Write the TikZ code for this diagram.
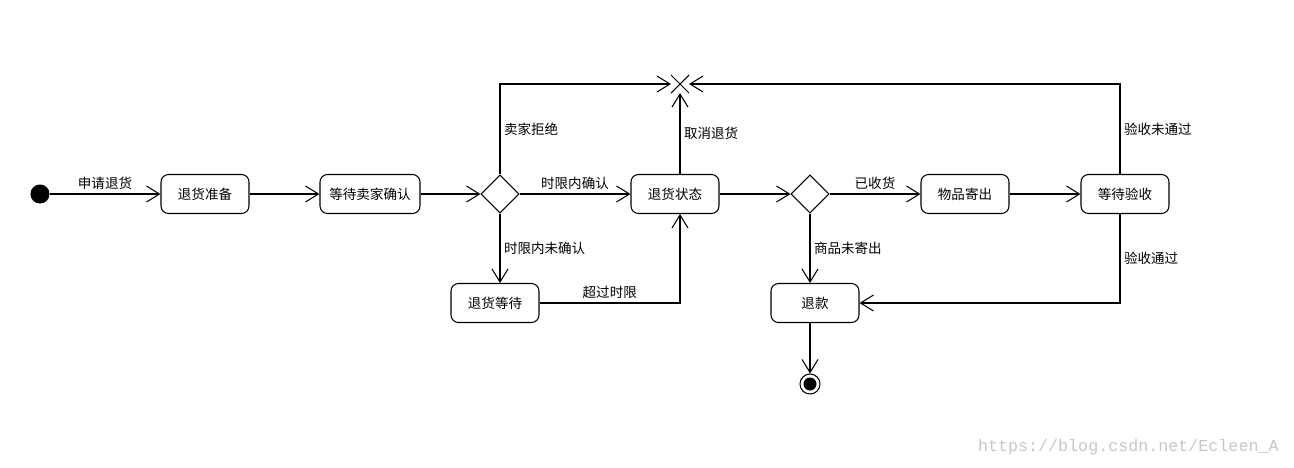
\documentclass[tikz,border=0pt]{standalone}
\usepackage{fontspec}
\newfontfamily\cjkfont{Noto Sans CJK SC}
\newfontfamily\wmfont{Liberation Mono}
\usepackage{tikz}
\usetikzlibrary{shapes.geometric, shapes.misc, arrows.meta}
\tikzstyle{start} =
[circle, minimum size = 0.36cm, inner sep = 0pt, draw=black, fill=black]
\tikzstyle{stop} =
[circle, minimum size = 0.4cm, inner sep = 0pt, draw=black,
path picture={\fill (path picture bounding box.center) circle (0.13cm);}]
\tikzstyle{activity} =
[rectangle, rounded corners = 0.15cm, minimum width = 1.76cm, minimum height = 0.78cm,
text centered, draw=black, font=\cjkfont\fontsize{7.7}{9}\selectfont]
\tikzstyle{decision} =
[diamond, aspect = 1, minimum width = 0.76cm, minimum height = 0.76cm,
inner sep = 0pt, draw=black]
\tikzstyle{terminate} =
[cross out, minimum size = 0.34cm, inner sep = 0pt, draw=black]
\tikzstyle{guard} = [font=\cjkfont\fontsize{7.7}{9}\selectfont, inner sep = 2pt]
\tikzstyle{line} = [draw, line width = 0.6pt, -{Straight Barb[length=0.26cm, width=0.32cm]}]

\begin{document}
\begin{tikzpicture}[node distance = 3.3cm, line width = 0.6pt]
  \useasboundingbox (0,0) rectangle (25.88,-9.34);
  % main row
  \node [start] at (0.8,-3.88) (init) {};
  \node [activity, right of=init] (prep) {退货准备};
  \node [activity, right of=prep, minimum width = 2cm] (wait) {等待卖家确认};
  \node [decision, right of=wait, node distance=2.6cm] (dec1) {};
  \node [activity, right of=dec1, node distance=3.5cm] (state) {退货状态};
  \node [decision, right of=state, node distance=2.7cm] (dec2) {};
  \node [activity, right of=dec2, node distance=3.1cm] (ship) {物品寄出};
  \node [activity, right of=ship, node distance=3.2cm] (check) {等待验收};
  % upper and lower nodes
  \node [terminate, above of=state, node distance=2.2cm, xshift=0.1cm] (cross) {};
  \node [activity, below of=dec1, node distance=2.18cm, xshift=-0.1cm] (hold) {退货等待};
  \node [activity, below of=dec2, node distance=2.18cm, xshift=0.1cm] (refund) {退款};
  \node [stop, below of=dec2, node distance=3.8cm] (final) {};
  % main row edges
  \path [line] (init) -- node [guard, above] {申请退货} (prep);
  \path [line] (prep) -- (wait);
  \path [line] (wait) -- (dec1);
  \path [line] (dec1) -- node [guard, above] {时限内确认} (state);
  \path [line] (state) -- (dec2);
  \path [line] (dec2) -- node [guard, above] {已收货} (ship);
  \path [line] (ship) -- (check);
  % edges to the cross
  \path [line] (dec1.north) |- node [guard, pos=0.25, right] {卖家拒绝} (cross.west);
  \path [line] (state.north -| cross) -- node [guard, right] {取消退货} (cross.south);
  \path [line] ([xshift=-0.1cm]check.north) |- node [guard, pos=0.25, right] {验收未通过} (cross.east);
  % lower edges
  \path [line] (dec1.south) -- node [guard, right] {时限内未确认} (dec1.south |- hold.north);
  \path [line] (hold.east) -| node [guard, pos=0.25, above] {超过时限} (state.south -| cross);
  \path [line] (dec2.south) -- node [guard, right] {商品未寄出} (dec2.south |- refund.north);
  \path [line] ([xshift=-0.1cm]check.south) |- node [guard, pos=0.25, right] {验收通过} (refund.east);
  \path [line] (refund.south -| final) -- (final.north);
  % watermark
  \node [anchor=east, text=black!22, font=\wmfont\fontsize{9.5}{11}\selectfont]
   at (25.7,-8.94) (mark) {https://blog.csdn.net/Ecleen\_A};
\end{tikzpicture}
\end{document}
